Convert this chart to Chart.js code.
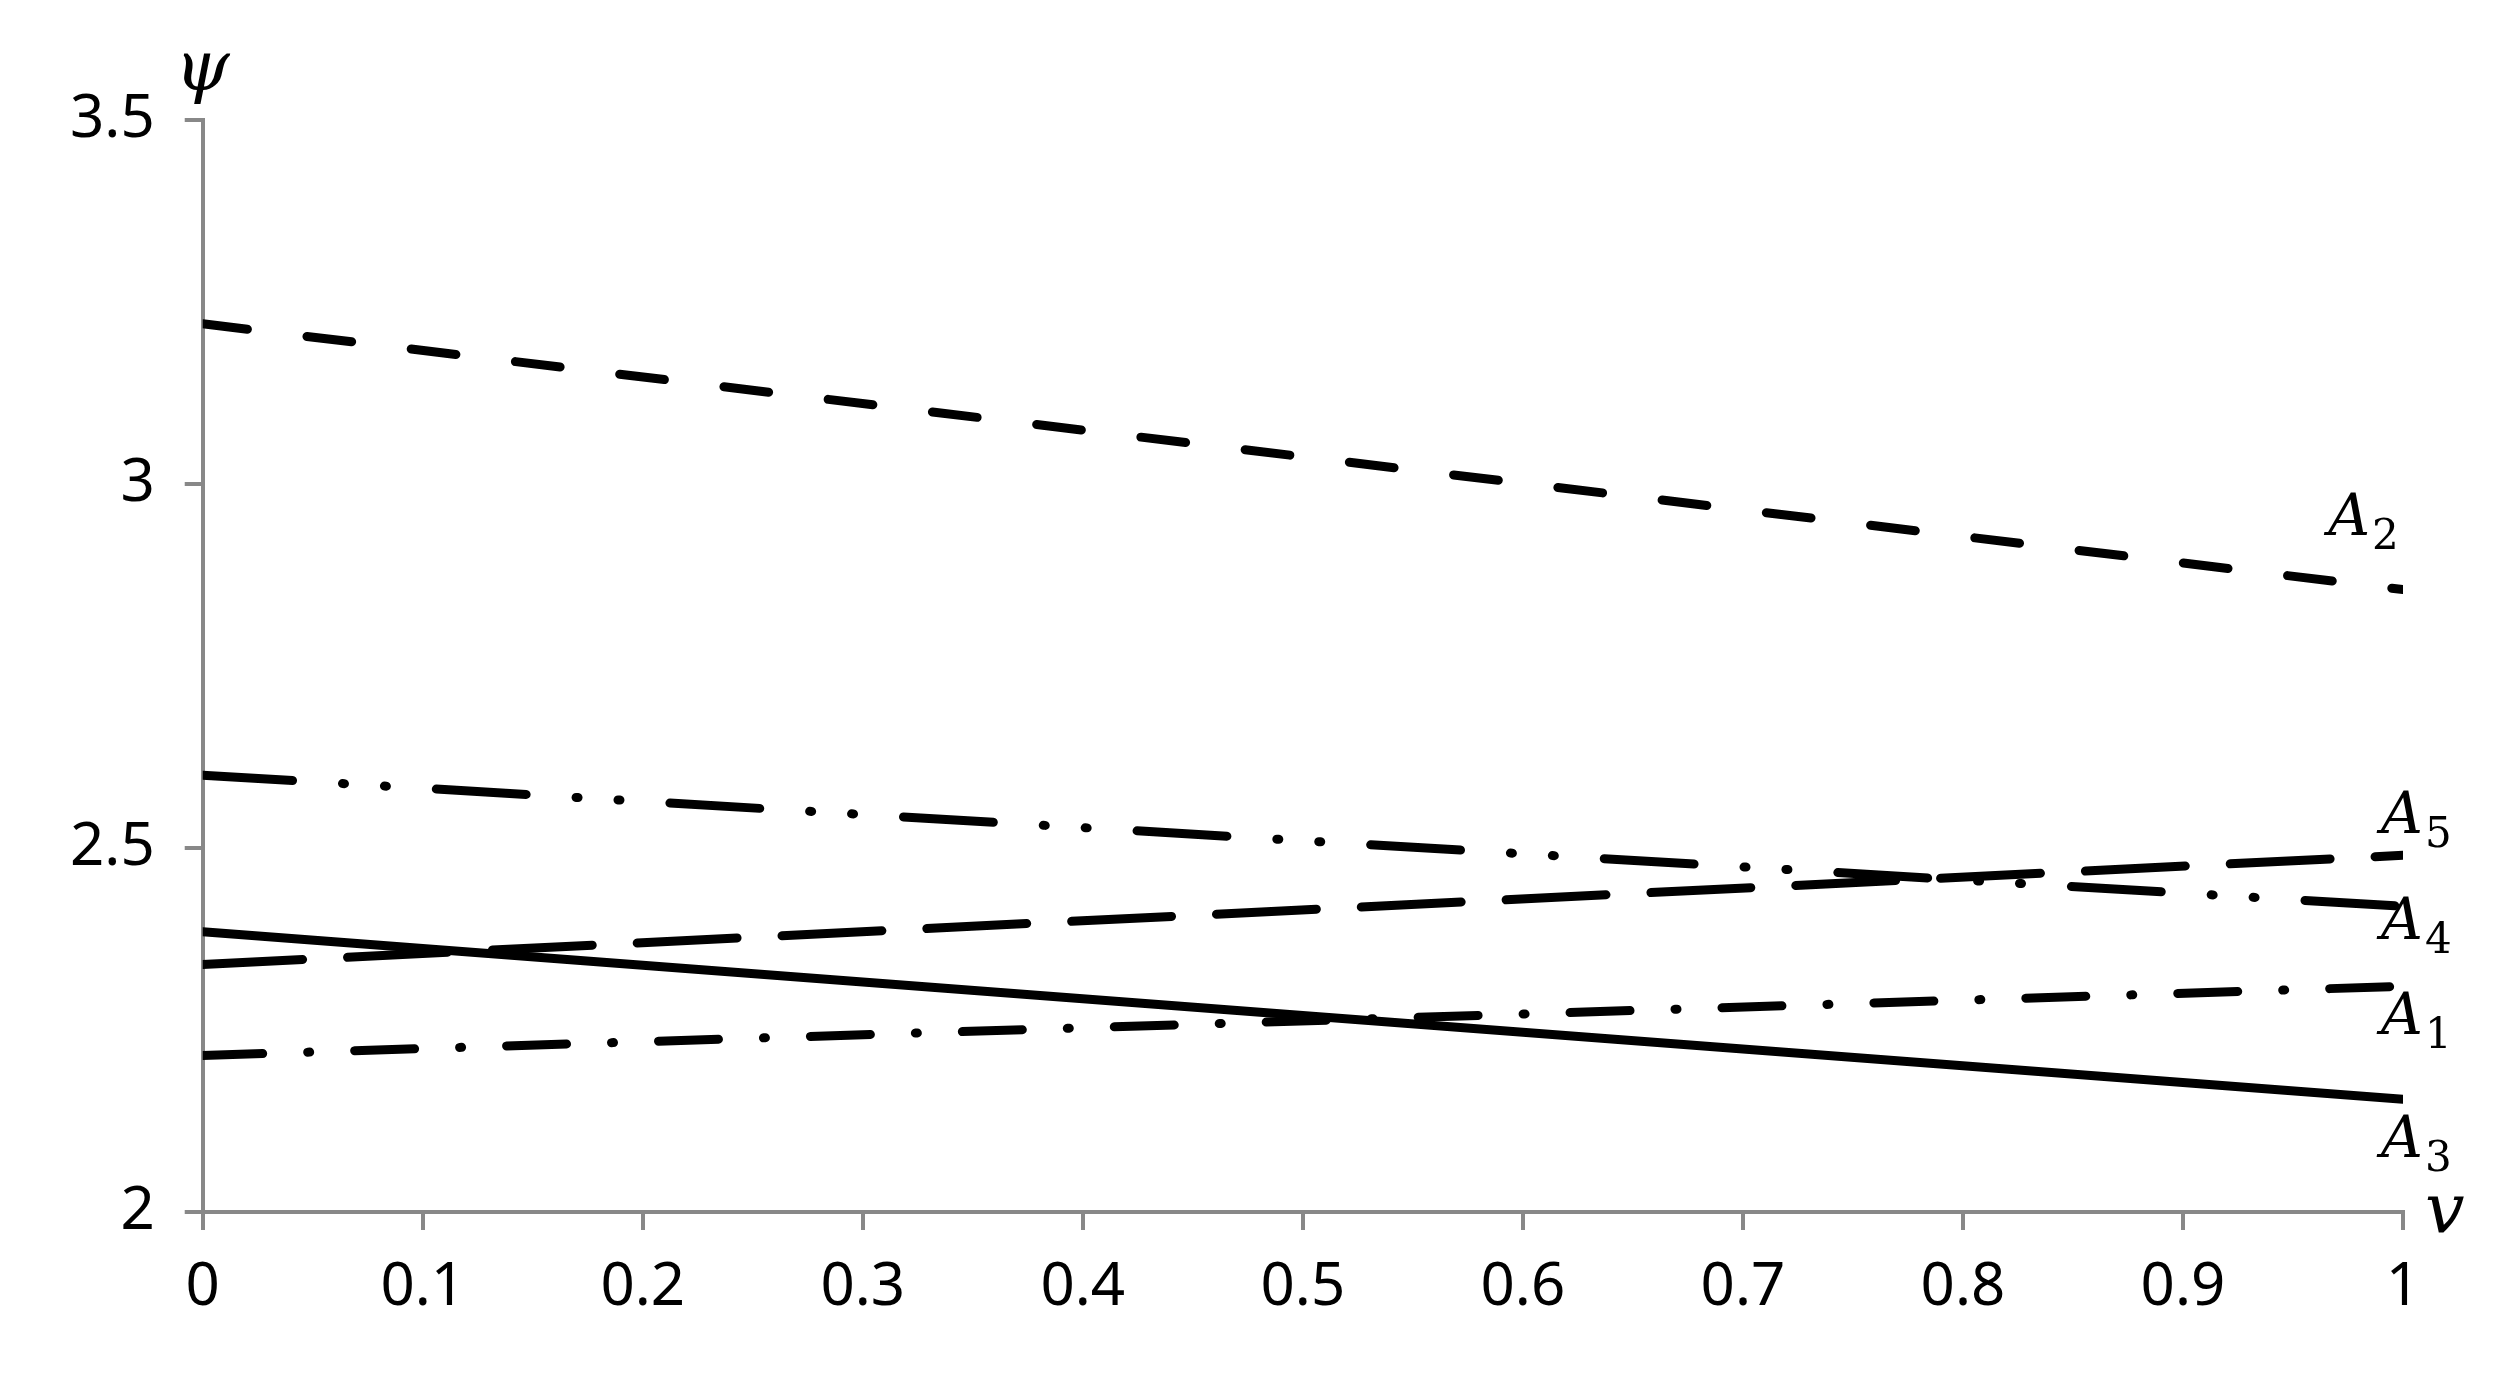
<!DOCTYPE html>
<html><head><meta charset="utf-8">
<script src="https://cdn.jsdelivr.net/npm/chart.js@4"></script>
<style>html,body{margin:0;background:#fff}#w{width:2495px;height:1386px}</style>
</head><body><div id="w"><canvas id="c"></canvas></div>
<script>
const xs=[0,1];
const A1=[2.215,2.31];
const A2=[3.22,2.855];
const A3=[2.385,2.155];
const A4=[2.6,2.42];
const A5=[2.34,2.49];
const names=['1','2','3','4','5'];
const labelPos=[[0.99,2.245],[0.966,2.93],[0.99,2.075],[0.99,2.375],[0.99,2.52]];
const xTicks=[0,0.1,0.2,0.3,0.4,0.5,0.6,0.7,0.8,0.9,1];
const yTicks=[2,2.5,3,3.5];
const mk=(d,dash)=>({data:xs.map((x,i)=>({x,y:d[i]})),borderColor:'#000',borderWidth:9,borderDash:dash,borderCapStyle:'round',showLine:true,pointRadius:0,fill:false});
const labelsPlugin={id:'lbl',afterDraw(ch){const c=ch.ctx,xa=ch.scales.x,ya=ch.scales.y;c.save();c.fillStyle='#000';
labelPos.forEach((p,i)=>{const x=xa.getPixelForValue(p[0]),y=ya.getPixelForValue(p[1]);c.font='italic 58px "DejaVu Serif"';c.textBaseline='alphabetic';c.fillText('A',x,y);const w=c.measureText('A').width;c.font='42px "DejaVu Serif"';c.fillText(names[i],x+w+2,y+14);});
c.font='italic 70px "DejaVu Serif"';c.fillText('ψ',xa.left-28,ya.top-30);
c.fillText('v',xa.right+22,ya.bottom+20);c.restore();}};
new Chart(document.getElementById('c'),{type:'scatter',
data:{datasets:[mk(A1,[60,45,2,45]),mk(A2,[45,60]),mk(A3,[]),mk(A4,[90,50,2,40,2,50]),mk(A5,[100,45])]},
options:{responsive:true,maintainAspectRatio:false,animation:false,
layout:{padding:{left:40,right:92,top:120,bottom:40}},
plugins:{legend:{display:false},tooltip:{enabled:false}},
scales:{x:{type:'linear',min:0,max:1,afterBuildTicks:a=>{a.ticks=xTicks.map(v=>({value:v}))},
grid:{display:true,drawOnChartArea:false,color:'#888',lineWidth:4,tickLength:18,tickColor:'#888'},border:{color:'#888',width:4},
ticks:{color:'#000',font:{family:'Noto Sans',size:60},padding:22,callback:v=>String(v)}},
y:{min:2,max:3.5,afterBuildTicks:a=>{a.ticks=yTicks.map(v=>({value:v}))},
grid:{display:true,drawOnChartArea:false,color:'#888',lineWidth:4,tickLength:18,tickColor:'#888'},border:{color:'#888',width:4},
ticks:{color:'#000',font:{family:'Noto Sans',size:60},padding:30,callback:v=>String(v)}}}},
plugins:[labelsPlugin]});
</script></body></html>
